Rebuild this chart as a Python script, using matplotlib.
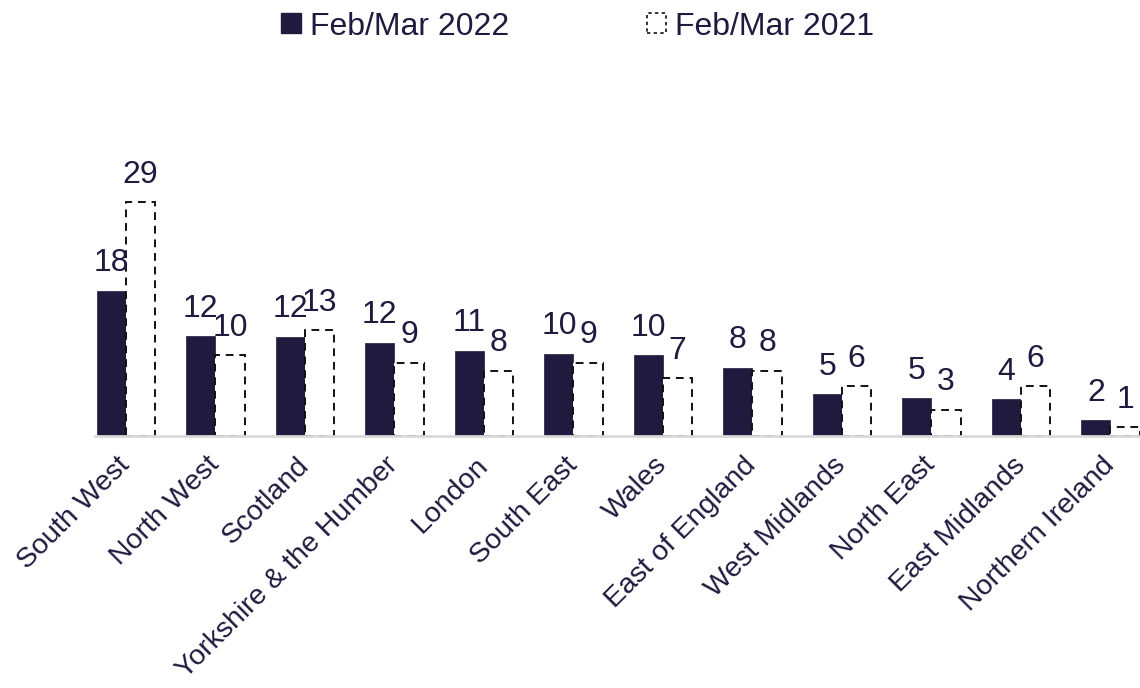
import numpy as np
import matplotlib.pyplot as plt
from matplotlib.patches import Patch

plt.rcParams['font.family'] = ['Liberation Sans', 'DejaVu Sans']

regions = ['South West', 'North West', 'Scotland', 'Yorkshire & the Humber', 'London',
           'South East', 'Wales', 'East of England', 'West Midlands', 'North East',
           'East Midlands', 'Northern Ireland']
# values (labels are the rounded figures)
vals_2022 = [18.0, 12.4, 12.3, 11.6, 10.6, 10.2, 10.0, 8.5, 5.2, 4.7, 4.6, 2.0]
vals_2021 = [29.0, 10.0, 13.1, 9.1, 8.1, 9.1, 7.2, 8.1, 6.2, 3.3, 6.2, 1.1]
labels_2022 = [18, 12, 12, 12, 11, 10, 10, 8, 5, 5, 4, 2]
labels_2021 = [29, 10, 13, 9, 8, 9, 7, 8, 6, 3, 6, 1]

navy = '#201a3f'
fig = plt.figure(figsize=(11.4, 6.88), dpi=100)
ax = fig.add_axes([0.083, 0.366, 0.917, 0.352])

x = np.arange(len(regions))
w = 0.325
b1 = ax.bar(x - w / 2, vals_2022, w, color=navy, edgecolor=navy, linewidth=0.5)
b2 = ax.bar(x + w / 2, vals_2021, w, facecolor='white', edgecolor='#111111',
            linewidth=1.4, linestyle=(0, (4, 3)))

for bars, labs in [(b1, labels_2022), (b2, labels_2021)]:
    for rect, lab in zip(bars, labs):
        ax.annotate(str(lab), (rect.get_x() + rect.get_width() / 2, rect.get_height()),
                    xytext=(0, 9), textcoords='offset points', ha='center', va='bottom',
                    fontsize=23, color=navy)

ax.set_xlim(-0.35, 11.33)
ax.set_ylim(0, 30)
for s in ['top', 'right', 'left']:
    ax.spines[s].set_visible(False)
ax.spines['bottom'].set_color('#d9d9d9')
ax.spines['bottom'].set_linewidth(2)
ax.set_yticks([])
ax.set_xticks(x)
ax.set_xticklabels(regions, rotation=45, ha='right', va='center', rotation_mode='anchor',
                   fontsize=20.5, color=navy)
ax.tick_params(axis='x', length=0, pad=18)

handles = [Patch(facecolor=navy, edgecolor=navy),
           Patch(facecolor='white', edgecolor='#111111', linestyle=(0, (2, 2)), linewidth=1.2)]
fig.legend(handles, ['Feb/Mar 2022', 'Feb/Mar 2021'], loc='upper center',
           bbox_to_anchor=(0.507, 1.025), ncol=2, frameon=False, fontsize=23,
           handlelength=0.6, handleheight=0.6, handletextpad=0.3, columnspacing=4.3,
           labelcolor=navy)

fig.savefig('out.png', dpi=100)
